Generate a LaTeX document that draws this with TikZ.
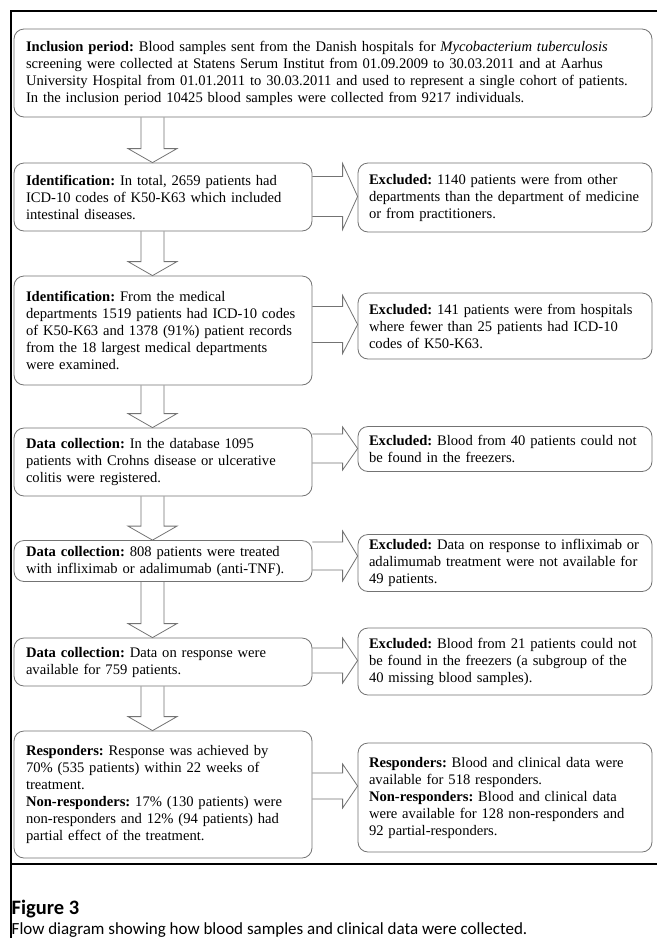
\documentclass[tikz,border=0pt]{standalone}
\usepackage{fontspec}
\setmainfont{Liberation Serif}
\newfontfamily\capfont{Carlito}
\usetikzlibrary{calc}
\definecolor{boxgray}{RGB}{115,115,115}
\frenchspacing
\newcommand\DownArr[2]{%
  \draw[arrline] let \p1=(#1.south), \p2=(#2.north) in
    (152.5pt-11.5pt,\y1) -- (152.5pt-11.5pt,\y2+14pt) -- (152.5pt-24.5pt,\y2+14pt)
    -- (152.5pt,\y2) -- (152.5pt+24.5pt,\y2+14pt) -- (152.5pt+11.5pt,\y2+14pt)
    -- (152.5pt+11.5pt,\y1);}
% #1 left node, #2 right node, #3 y of arrow axis (downward pt), #4 head half height, #5 shaft half height
\newcommand\RightArr[5]{%
  \draw[arrline] let \p1=(#1.east), \p2=(#2.west) in
    (\x1,-#3pt+#5pt) -- (\x2-15pt,-#3pt+#5pt) -- (\x2-15pt,-#3pt+#4pt)
    -- (\x2,-#3pt) -- (\x2-15pt,-#3pt-#4pt) -- (\x2-15pt,-#3pt-#5pt)
    -- (\x1,-#3pt-#5pt);}
\begin{document}
\begin{tikzpicture}[x=1pt,y=-1pt,
  arrline/.style={draw=boxgray, line width=0.8pt, line join=miter},
  box/.style={draw=boxgray, line width=0.8pt, rounded corners=10pt, align=left,
    inner ysep=0pt, font=\fontsize{14.6}{17}\selectfont},
  lbox/.style={box, inner xsep=12pt, text width=274pt, minimum width=298pt},
  rbox/.style={box, inner xsep=11pt, text width=272pt, minimum width=294pt},
  frameline/.style={line width=1.6pt, draw=black}]
\useasboundingbox (0,0) rectangle (657,938);
\fill[white] (0,0) rectangle (657,938);
\draw[frameline] (657,11) -- (11,11) -- (11,938);
\draw[frameline] (11,864) -- (657,864);

\node[box, inner xsep=12pt, text width=614pt, minimum width=638pt, minimum height=88pt] (b1) at (333,73)
 {\textbf{Inclusion period:} Blood samples sent from the Danish hospitals for \textit{Mycobacterium tuberculosis}\\
  screening were collected at Statens Serum Institut from 01.09.2009 to 30.03.2011 and at Aarhus\\
  University Hospital from 01.01.2011 to 30.03.2011 and used to represent a single cohort of patients.\\
  In the inclusion period 10425 blood samples were collected from 9217 individuals.};

\node[lbox, minimum height=68pt] (L2) at (163,197)
 {\textbf{Identification:} In total, 2659 patients had\\ ICD-10 codes of K50-K63 which included\\ intestinal diseases.};
\node[rbox, minimum height=69pt] (R2) at (505,197.5)
 {\textbf{Excluded:} 1140 patients were from other\\ departments than the department of medicine\\ or from practitioners.};

\node[lbox, minimum height=109pt] (L3) at (163,330.5)
 {\textbf{Identification:} From the medical\\ departments 1519 patients had ICD-10 codes\\ of K50-K63 and 1378 (91\%) patient records\\ from the 18 largest medical departments\\ were examined.};
\node[rbox, minimum height=66pt] (R3) at (505,326)
 {\textbf{Excluded:} 141 patients were from hospitals\\ where fewer than 25 patients had ICD-10\\ codes of K50-K63.};

\node[lbox, minimum height=68pt] (L4) at (163,462)
 {\textbf{Data collection:} In the database 1095\\ patients with Crohns disease or ulcerative\\ colitis were registered.};
\node[rbox, minimum height=45pt] (R4) at (505,449)
 {\textbf{Excluded:} Blood from 40 patients could not\\ be found in the freezers.};

\node[lbox, minimum height=41pt] (L5) at (163,561)
 {\textbf{Data collection:} 808 patients were treated\\ with infliximab or adalimumab (anti-TNF).};
\node[rbox, minimum height=57pt] (R5) at (505,563)
 {\textbf{Excluded:} Data on response to infliximab or\\ adalimumab treatment were not available for\\ 49 patients.};

\node[lbox, minimum height=48pt] (L6) at (163,662)
 {\textbf{Data collection:} Data on response were\\ available for 759 patients.};
\node[rbox, minimum height=67pt] (R6) at (505,661.5)
 {\textbf{Excluded:} Blood from 21 patients could not\\ be found in the freezers (a subgroup of the\\ 40 missing blood samples).};

\node[lbox, minimum height=127pt] (L7) at (163,794.5)
 {\textbf{Responders:} Response was achieved by\\ 70\% (535 patients) within 22 weeks of\\ treatment.\\ \textbf{Non-responders:} 17\% (130 patients) were\\ non-responders and 12\% (94 patients) had\\ partial effect of the treatment.};
\node[rbox, minimum height=109pt] (R7) at (505,797.5)
 {\textbf{Responders:} Blood and clinical data were\\ available for 518 responders.\\ \textbf{Non-responders:} Blood and clinical data\\ were available for 128 non-responders and\\ 92 partial-responders.};

\DownArr{b1}{L2}
\DownArr{L2}{L3}
\DownArr{L3}{L4}
\DownArr{L4}{L5}
\DownArr{L5}{L6}
\DownArr{L6}{L7}

\RightArr{L2}{R2}{196.5}{33}{20}
\RightArr{L3}{R3}{324.5}{29}{18}
\RightArr{L4}{R4}{448.5}{21.5}{14.5}
\RightArr{L5}{R5}{556}{25}{14}
\RightArr{L6}{R6}{660.5}{22.5}{12.5}
\RightArr{L7}{R7}{786}{22}{13}

\node[anchor=base west, inner sep=0pt, font=\capfont\bfseries\fontsize{20.5}{24}\selectfont] (fig) at (11.5,914) {Figure 3};
\node[anchor=base west, inner sep=0pt, font=\capfont\fontsize{17}{20}\selectfont] (cap) at (11.5,934) {Flow diagram showing how blood samples and clinical data were collected.};
\end{tikzpicture}
\end{document}
